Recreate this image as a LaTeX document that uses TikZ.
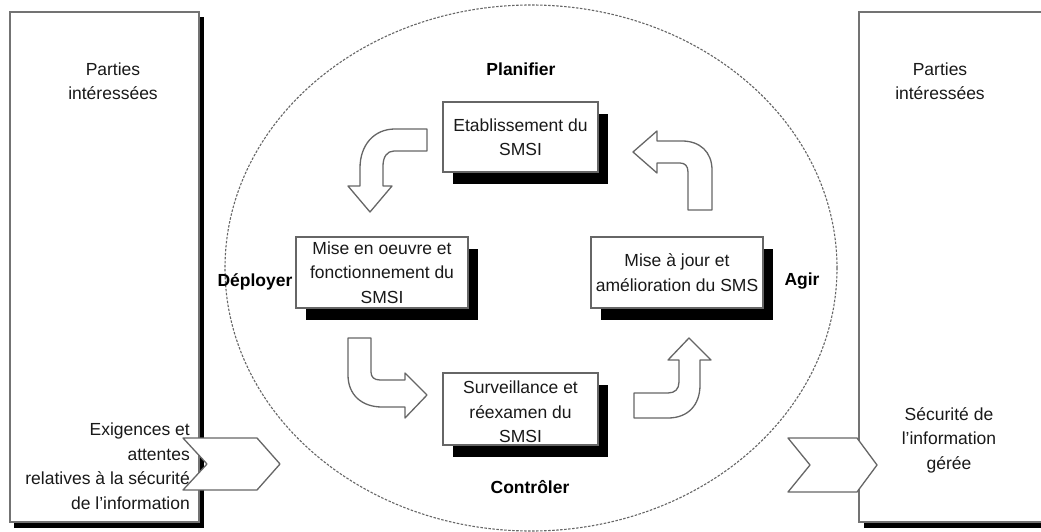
\documentclass[tikz,border=0pt]{standalone}
\usepackage{fontspec}
\setmainfont{Liberation Sans}
\usetikzlibrary{shadows}
\begin{document}
\begin{tikzpicture}[x=1pt,y=-1pt,
  txt/.style={font=\fontsize{17.5}{24.5}\selectfont, text=black!90, inner sep=0pt, align=center},
  phase/.style={font=\fontsize{17.5}{24.5}\selectfont\bfseries, text=black, inner sep=0pt},
  stagebox/.style={txt, draw=black!60, line width=1.2pt, fill=white,
    drop shadow={shadow xshift=10pt, shadow yshift=-12pt, fill=black, opacity=1}},
  bentarrow/.style={draw=black!60, line width=1.3pt, fill=white, line join=round},
  chevron/.style={draw=black!60, line width=1.3pt, fill=white, line join=round},
  sidebox/.style={draw=black!55, line width=1.2pt, fill=white},
  sideshadow/.style={fill=black}
]
% page
\fill[white] (0,0) rectangle (1041,532);
\useasboundingbox (0,0) rectangle (1041,532);

% interested parties on both sides
\fill[sideshadow] (14,17) rectangle (204,528);
\draw[sidebox] (10,12) rectangle (199,522);
\draw[black!55, line width=2.5pt] (10,12) -- (199,12);
\fill[sideshadow] (864,17) rectangle (1060,528);
\draw[sidebox] (859,12) rectangle (1055,522);
\draw[black!55, line width=2.5pt] (859,12) -- (1055,12);

\node[txt] (pl) at (113,81) {Parties\\intéressées};
\node[txt] (pr) at (940,81) {Parties\\intéressées};

% ISMS cycle boundary
\draw[black!60, line width=1.1pt, dash pattern=on 2.5pt off 1.5pt]
  (531,268) ellipse [x radius=306pt, y radius=263pt];

% input and output chevrons
\draw[chevron] (183,438) -- (257,438) -- (280,464) -- (257,490) -- (183,490) -- (207,464) -- cycle;
\draw[chevron] (788,438) -- (857,438) -- (877,465) -- (857,492) -- (788,492) -- (810,465) -- cycle;

\node[txt, align=right, anchor=east] (req) at (190,466)
  {Exigences et\\attentes\\relatives à la sécurité\\de l'information};
\node[txt] (out) at (949,440) {Sécurité de\\l'information\\gérée};

% the four stages
\node[stagebox, minimum width=155pt, minimum height=70pt] (plan) at (520.5,137)
  {Etablissement du\\SMSI};
\node[stagebox, minimum width=172pt, minimum height=71pt] (do) at (382,272.5)
  {Mise en oeuvre et\\fonctionnement du\\SMSI};
\node[stagebox, minimum width=172pt, minimum height=71pt] (act) at (677,272.5)
  {Mise à jour et\\amélioration du SMS};
\node[stagebox, minimum width=155pt, minimum height=72pt] (check) at (520.5,409) {};
\node[txt] (checktxt) at (520.5,412) {Surveillance et\\réexamen du\\SMSI};

% phase labels
\node[phase] (lplan) at (521,69) {Planifier};
\node[phase] (ldo) at (255,282) {Déployer};
\node[phase] (lact) at (802,281) {Agir};
\node[phase] (lcheck) at (530,487) {Contrôler};

% bent block arrows between the stages
\draw[bentarrow] (427,129) -- (395,129) .. controls (374,129) and (360,145) .. (360,168)
  -- (360,186) -- (348,186) -- (370,212) -- (392,186) -- (383,186) -- (383,166)
  .. controls (383,157) and (387,151) .. (394,151) -- (427,151) -- cycle;
\draw[bentarrow] (348,338) -- (371,338) -- (371,372) .. controls (371,377) and (374,380) .. (380,380)
  -- (405,380) -- (405,373) -- (427,395) -- (405,418) -- (405,407) -- (382,407)
  .. controls (362,407) and (348,395) .. (348,375) -- cycle;
\draw[bentarrow] (634,393) -- (668,393) .. controls (675,393) and (679,389) .. (679,382)
  -- (679,360) -- (668,360) -- (689,338) -- (711,360) -- (700,360) -- (700,385)
  .. controls (700,405) and (688,418) .. (668,418) -- (634,418) -- cycle;
\draw[bentarrow] (688,210) -- (712,210) -- (712,170) .. controls (712,152) and (700,141) .. (682,141)
  -- (657,141) -- (657,131) -- (633,152) -- (657,173) -- (657,163) -- (680,163)
  .. controls (685,163) and (688,166) .. (688,172) -- cycle;
\end{tikzpicture}
\end{document}
